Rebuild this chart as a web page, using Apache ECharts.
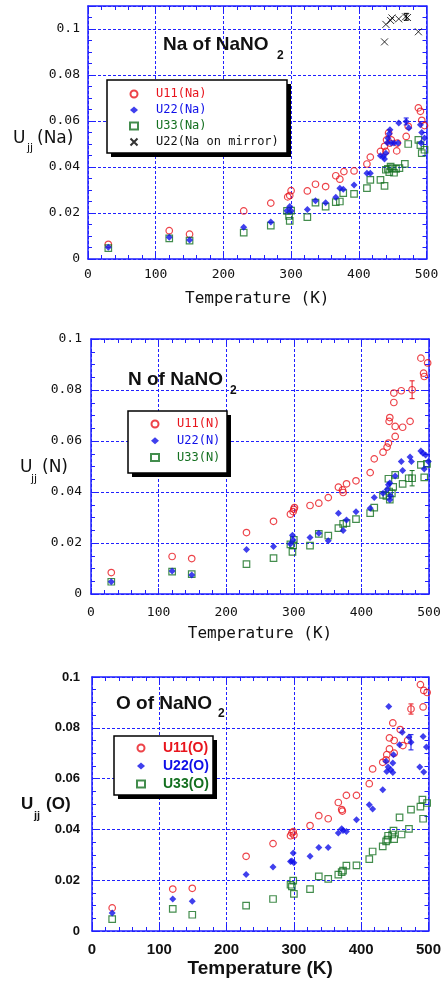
<!DOCTYPE html>
<html>
<head>
<meta charset="utf-8">
<script src="https://cdn.jsdelivr.net/npm/echarts@6/dist/echarts.min.js"></script>
<style>
html, body { margin: 0; padding: 0; background: #fff; }
#chart { width: 444px; height: 985px; }
</style>
</head>
<body>
<div id="chart"></div>
<script>
// tick values shared by the three panels
const xTicks = [0, 100, 200, 300, 400, 500];
const yTicks = [0, 0.02, 0.04, 0.06, 0.08, 0.1];
const yMaxNa = 0.11;

// ---- Na of NaNO2 : [T (K), Ujj] ----
const na11 = [[30,0.0064],[120,0.0123],[150,0.0108],[230,0.0209],[270,0.0243],[295,0.027],[298,0.0276],[300,0.0297],[324,0.0296],[336,0.0325],[351,0.0315],[366,0.0362],[372,0.0347],[378,0.038],[393,0.0383],[412,0.0413],[417,0.0443],[432,0.0468],[438,0.049],[440,0.0468],[441,0.0518],[444,0.0548],[446,0.0504],[448,0.0518],[456,0.047],[457,0.0504],[470,0.0533],[473,0.0577],[488,0.0657],[491,0.0642],[493,0.0603],[497,0.058]];
const na22 = [[30,0.0051],[120,0.0095],[150,0.0083],[230,0.0138],[270,0.0161],[294,0.021],[298,0.0228],[300,0.0209],[324,0.0215],[336,0.0253],[351,0.0245],[366,0.0269],[372,0.0308],[377,0.0303],[393,0.0322],[412,0.0373],[417,0.0373],[432,0.0449],[436,0.0445],[438,0.0435],[440,0.046],[442,0.0505],[443,0.0525],[445,0.0545],[446,0.0562],[448,0.0504],[452,0.0504],[458,0.0504],[459,0.0591],[470,0.0598],[474,0.057],[491,0.0584],[492,0.0504],[493,0.055],[497,0.0526]];
const na33 = [[30,0.0047],[120,0.009],[150,0.008],[230,0.0115],[270,0.0145],[294,0.0209],[297,0.0187],[298,0.0166],[300,0.021],[324,0.0182],[336,0.0245],[351,0.0228],[366,0.0247],[372,0.025],[377,0.0286],[393,0.0283],[412,0.0308],[417,0.0344],[432,0.0344],[438,0.0318],[440,0.0388],[443,0.0392],[445,0.0378],[447,0.0402],[449,0.0395],[452,0.0375],[455,0.0392],[460,0.0395],[468,0.0414],[473,0.05],[488,0.0518],[491,0.0495],[493,0.046],[497,0.0475]];
const naMirror = [[438,0.0944],[440,0.102],[447,0.1037],[449,0.1048],[459,0.1044],[469,0.1053],[472,0.105],[488,0.0988]];
// error bars: [T, Ujj, half height]
const na22Err = [[470,0.0598,0.0015]];
const naMirrorErr = [[470,0.1053,0.0015]];

// ---- N of NaNO2 ----
const n11 = [[30,0.0084],[120,0.0147],[149,0.0139],[230,0.0241],[270,0.0285],[295,0.0313],[299,0.0323],[300,0.0332],[301,0.0339],[324,0.0347],[337,0.0356],[351,0.0378],[366,0.0419],[372,0.0408],[373,0.0398],[378,0.0432],[392,0.0444],[413,0.0476],[419,0.053],[432,0.0556],[438,0.0576],[440,0.0592],[441,0.0677],[442,0.0692],[448,0.0751],[448,0.0788],[450,0.0618],[450,0.0657],[459,0.0797],[461,0.0654],[472,0.0677],[475,0.0801],[488,0.0925],[492,0.0866],[493,0.0853],[498,0.0906]];
const n22 = [[30,0.0048],[120,0.009],[149,0.0075],[230,0.0175],[270,0.0186],[295,0.0196],[298,0.023],[299,0.0212],[324,0.0222],[337,0.0238],[351,0.0209],[366,0.0317],[373,0.0249],[378,0.029],[392,0.0323],[413,0.0336],[419,0.0378],[432,0.0395],[438,0.041],[440,0.0428],[442,0.0435],[442,0.037],[443,0.0385],[450,0.0463],[459,0.052],[461,0.0484],[472,0.0537],[474,0.052],[488,0.0561],[491,0.0552],[493,0.049],[495,0.0545],[499,0.052]];
const n33 = [[30,0.0048],[120,0.0088],[149,0.0078],[230,0.0117],[270,0.0141],[295,0.0195],[298,0.0165],[299,0.0191],[300,0.0212],[324,0.019],[337,0.0236],[351,0.0229],[366,0.0258],[373,0.0275],[378,0.0278],[392,0.0294],[413,0.0317],[419,0.0339],[432,0.0389],[437,0.0385],[440,0.0452],[441,0.0402],[442,0.037],[445,0.0395],[447,0.042],[450,0.0467],[461,0.0432],[470,0.0454],[475,0.0454],[488,0.0506],[493,0.0457],[497,0.051]];
const n11Err = [[475,0.0801,0.0035]];
const n33Err = [[475,0.0454,0.003]];

// ---- O of NaNO2 ----
const o11 = [[30,0.0091],[120,0.0165],[149,0.0168],[229,0.0294],[269,0.0344],[295,0.0375],[297,0.0386],[299,0.0391],[300,0.0378],[324,0.0415],[337,0.0454],[351,0.0442],[366,0.0506],[371,0.0478],[372,0.0472],[378,0.0534],[393,0.0534],[412,0.058],[417,0.0638],[432,0.0664],[437,0.0674],[438,0.0694],[442,0.0717],[442,0.076],[447,0.0819],[449,0.075],[449,0.07],[458,0.0793],[462,0.073],[469,0.075],[474,0.0874],[488,0.097],[492,0.0882],[493,0.0947],[498,0.0939]];
const o22 = [[30,0.0071],[120,0.0126],[149,0.0117],[229,0.0222],[269,0.0252],[295,0.0274],[297,0.0276],[299,0.0307],[300,0.0269],[324,0.0294],[337,0.0329],[351,0.0329],[366,0.0386],[371,0.0403],[373,0.0396],[378,0.0392],[393,0.0438],[412,0.0497],[417,0.048],[432,0.0556],[437,0.0668],[438,0.0628],[440,0.0646],[441,0.0884],[444,0.0635],[447,0.0624],[447,0.0661],[448,0.0694],[457,0.0733],[461,0.0782],[471,0.0764],[474,0.0743],[487,0.0646],[492,0.0766],[493,0.0626],[497,0.0724]];
const o33 = [[30,0.0047],[120,0.0087],[149,0.0064],[229,0.01],[269,0.0126],[295,0.0182],[297,0.0176],[299,0.0198],[300,0.0146],[324,0.0165],[337,0.0215],[351,0.0205],[366,0.0222],[371,0.0232],[373,0.0238],[378,0.0257],[393,0.0258],[412,0.0283],[417,0.0313],[432,0.0333],[437,0.0353],[439,0.036],[440,0.0375],[446,0.038],[448,0.0395],[449,0.0362],[457,0.0447],[460,0.038],[471,0.0402],[474,0.0478],[488,0.049],[491,0.0517],[492,0.0442],[498,0.0504]];
const o11Err = [[474,0.0874,0.002]];
const o22Err = [[474,0.0743,0.003]];

const BLUE_AX = '#2020ff';
const RED = '#e8141c';
const BLUE = '#1010e8';
const GREEN = '#147020';
const INK = '#111';
const MONO = '"DejaVu Sans Mono", monospace';
const SANS = '"Liberation Sans", Arial, sans-serif';

const chart = echarts.init(document.getElementById('chart'));

// per-panel layout and text styles
const panels = [
    { grid: {left: 88, top: 6, width: 338.5, height: 253}, yMax: yMaxNa,
      font: MONO, weight: 'normal', xSize: 13, ySize: 13, xMargin: 9, yMargin: 8,
      nameSize: 16, nameGap: 32 },
    { grid: {left: 91, top: 339, width: 338, height: 255}, yMax: yTicks[yTicks.length - 1],
      font: MONO, weight: 'normal', xSize: 13, ySize: 13, xMargin: 12, yMargin: 9,
      nameSize: 16, nameGap: 32 },
    { grid: {left: 92, top: 677, width: 339, height: 254}, yMax: yTicks[yTicks.length - 1],
      font: SANS, weight: 'bold', xSize: 15, ySize: 13, xMargin: 11, yMargin: 12,
      nameSize: 19, nameGap: 28 }
];

const xAxes = [], yAxes = [];
panels.forEach(function (p, g) {
    xAxes.push({
        gridIndex: g, type: 'value', position: 'bottom',
        min: xTicks[0], max: xTicks[xTicks.length - 1], interval: xTicks[1] - xTicks[0],
        axisLine: {onZero: false, lineStyle: {color: BLUE_AX, width: 1.5}},
        axisTick: {inside: true, length: 6, lineStyle: {color: BLUE_AX}},
        minorTick: {show: true, splitNumber: 5, length: 4, lineStyle: {color: BLUE_AX}},
        splitLine: {show: true, lineStyle: {color: BLUE_AX, type: [3, 2], width: 1}},
        axisLabel: {margin: p.xMargin, color: INK, fontFamily: p.font, fontWeight: p.weight, fontSize: p.xSize},
        name: 'Temperature (K)', nameLocation: 'middle', nameGap: p.nameGap,
        nameTextStyle: {color: INK, fontFamily: p.font, fontWeight: p.weight, fontSize: p.nameSize}
    });
    yAxes.push({
        gridIndex: g, type: 'value', position: 'left',
        min: yTicks[0], max: p.yMax, interval: yTicks[1] - yTicks[0],
        axisLine: {onZero: false, lineStyle: {color: BLUE_AX, width: 1.5}},
        axisTick: {inside: true, length: 6, lineStyle: {color: BLUE_AX}},
        minorTick: {show: true, splitNumber: 4, length: 4, lineStyle: {color: BLUE_AX}},
        splitLine: {show: true, lineStyle: {color: BLUE_AX, type: [3, 2], width: 1}},
        axisLabel: {
            margin: p.yMargin, color: INK, fontFamily: p.font, fontWeight: p.weight, fontSize: p.ySize,
            formatter: function (v) {
                if (v > yTicks[yTicks.length - 1] + 1e-9) return '';
                return v === 0 ? '0' : String(+v.toFixed(2));
            }
        }
    });
});
// mirror axes on top / right (ticks only)
panels.forEach(function (p, g) {
    xAxes.push({
        gridIndex: g, type: 'value', position: 'top',
        min: xTicks[0], max: xTicks[xTicks.length - 1], interval: xTicks[1] - xTicks[0],
        axisLine: {onZero: false, lineStyle: {color: BLUE_AX, width: 1.5}},
        axisTick: {inside: true, length: 6, lineStyle: {color: BLUE_AX}},
        minorTick: {show: true, splitNumber: 5, length: 4, lineStyle: {color: BLUE_AX}},
        splitLine: {show: false}, axisLabel: {show: false}
    });
    yAxes.push({
        gridIndex: g, type: 'value', position: 'right',
        min: yTicks[0], max: p.yMax, interval: yTicks[1] - yTicks[0],
        axisLine: {onZero: false, lineStyle: {color: BLUE_AX, width: 1.5}},
        axisTick: {inside: true, length: 6, lineStyle: {color: BLUE_AX}},
        minorTick: {show: true, splitNumber: 4, length: 4, lineStyle: {color: BLUE_AX}},
        splitLine: {show: false}, axisLabel: {show: false}
    });
});

const markers = {
    u11: {symbol: 'circle', symbolSize: 6.5, itemStyle: {color: 'transparent', borderColor: RED, borderWidth: 1.2}},
    u22: {symbol: 'diamond', symbolSize: 7, itemStyle: {color: BLUE}},
    u33: {symbol: 'rect', symbolSize: 6.5, itemStyle: {color: 'transparent', borderColor: GREEN, borderWidth: 1.2}},
    mir: {symbol: 'path://M0,0L10,10M10,0L0,10', symbolSize: 7, itemStyle: {color: 'transparent', borderColor: '#000', borderWidth: 1}}
};

function scatter(name, g, data, m) {
    return Object.assign({type: 'scatter', name: name, xAxisIndex: g, yAxisIndex: g, data: data,
        silent: true, z: 3, symbolKeepAspect: true}, JSON.parse(JSON.stringify(m)));
}

function errBars(g, data, color) {
    return {
        type: 'custom', xAxisIndex: g, yAxisIndex: g, data: data, silent: true, z: 4,
        itemStyle: {color: color},
        renderItem: function (params, api) {
            const x = api.value(0), y = api.value(1), e = api.value(2);
            const hi = api.coord([x, y + e]), lo = api.coord([x, y - e]);
            const st = {stroke: color, lineWidth: 1};
            return {type: 'group', children: [
                {type: 'line', shape: {x1: hi[0], y1: hi[1], x2: lo[0], y2: lo[1]}, style: st},
                {type: 'line', shape: {x1: hi[0] - 2.5, y1: hi[1], x2: hi[0] + 2.5, y2: hi[1]}, style: st},
                {type: 'line', shape: {x1: lo[0] - 2.5, y1: lo[1], x2: lo[0] + 2.5, y2: lo[1]}, style: st}
            ]};
        }
    };
}

const series = [
    scatter('U11(Na)', 0, na11, markers.u11),
    scatter('U33(Na)', 0, na33, markers.u33),
    scatter('U22(Na)', 0, na22, markers.u22),
    scatter('U22(Na on mirror)', 0, naMirror, markers.mir),
    errBars(0, na22Err, BLUE),
    errBars(0, naMirrorErr, '#000'),
    scatter('U11(N)', 1, n11, markers.u11),
    scatter('U33(N)', 1, n33, markers.u33),
    scatter('U22(N)', 1, n22, markers.u22),
    errBars(1, n11Err, RED),
    errBars(1, n33Err, GREEN),
    scatter('U11(O)', 2, o11, markers.u11),
    scatter('U33(O)', 2, o33, markers.u33),
    scatter('U22(O)', 2, o22, markers.u22),
    errBars(2, o11Err, RED),
    errBars(2, o22Err, BLUE)
];

// legend frames (box + hard drop shadow), drawn under the legends
const frames = [
    {x: 107, y: 80, width: 180, height: 73},
    {x: 128, y: 411, width: 99, height: 62},
    {x: 114, y: 736, width: 99, height: 59}
];

function legendBox(f, pad, gap, names, colors, text) {
    return {
        left: f.x, top: f.y, padding: pad, itemGap: gap,
        orient: 'vertical', selectedMode: false, itemWidth: 8, itemHeight: 7,
        symbolKeepAspect: true, z: 6,
        textStyle: Object.assign({padding: [0, 0, 0, 13]}, text),
        data: names.map(function (n, i) { return {name: n, textStyle: {color: colors[i]}}; })
    };
}

const legends = [
    legendBox(frames[0], [7, 8, 4, 22], 2,
        ['U11(Na)', 'U22(Na)', 'U33(Na)', 'U22(Na on mirror)'], [RED, BLUE, GREEN, INK],
        {fontFamily: MONO, fontSize: 12, lineHeight: 14}),
    legendBox(frames[1], [6, 8, 8, 22], 2.7,
        ['U11(N)', 'U22(N)', 'U33(N)'], [RED, BLUE, GREEN],
        {fontFamily: MONO, fontSize: 12, lineHeight: 14}),
    legendBox(frames[2], [4, 8, 3, 22], 2,
        ['U11(O)', 'U22(O)', 'U33(O)'], [RED, BLUE, GREEN],
        {fontFamily: SANS, fontWeight: 'bold', fontSize: 14, lineHeight: 16})
];

function label(text, x, y, font) {
    return {type: 'text', x: x, y: y, silent: true, z: 5,
        style: {text: text, font: font, fill: INK, textAlign: 'left', textVerticalAlign: 'middle',
            align: 'left', verticalAlign: 'middle'}};
}

const graphics = [];
frames.forEach(function (f) {
    graphics.push({type: 'rect', z: 1, silent: true,
        shape: {x: f.x + 4, y: f.y + 4, width: f.width, height: f.height},
        style: {fill: '#000'}});
    graphics.push({type: 'rect', z: 2, silent: true,
        shape: {x: f.x, y: f.y, width: f.width, height: f.height},
        style: {fill: '#fff', stroke: '#000', lineWidth: 1.5}});
});
[
    // panel titles
    label('Na of NaNO', 163, 45, 'bold 19px ' + SANS),
    label('2', 277, 56, 'bold 12px ' + SANS),
    label('N of NaNO', 128, 380, 'bold 19px ' + SANS),
    label('2', 230, 391, 'bold 12px ' + SANS),
    label('O of NaNO', 116, 704, 'bold 19px ' + SANS),
    label('2', 218, 714, 'bold 12px ' + SANS),
    // y axis names
    label('U', 13, 139, '17px "DejaVu Sans"'),
    label('jj', 27, 148, '11px "DejaVu Sans"'),
    label('(Na)', 37, 139, '17px "DejaVu Sans"'),
    label('U', 20, 468, '17px "DejaVu Sans"'),
    label('jj', 31, 479, '11px "DejaVu Sans"'),
    label('(N)', 42, 468, '17px "DejaVu Sans"'),
    label('U', 21, 804, 'bold 17px ' + SANS),
    label('jj', 34, 816, 'bold 11px ' + SANS),
    label('(O)', 46, 804, 'bold 17px ' + SANS)
].forEach(function (t) { graphics.push(t); });

const option = {
    animation: false,
    backgroundColor: '#fff',
    grid: panels.map(function (p) { return p.grid; }),
    xAxis: xAxes,
    yAxis: yAxes,
    legend: legends,
    series: series,
    graphic: {elements: graphics}
};

chart.setOption(option);
window.addEventListener('resize', function () {
    chart.resize();
});
</script>
</body>
</html>
